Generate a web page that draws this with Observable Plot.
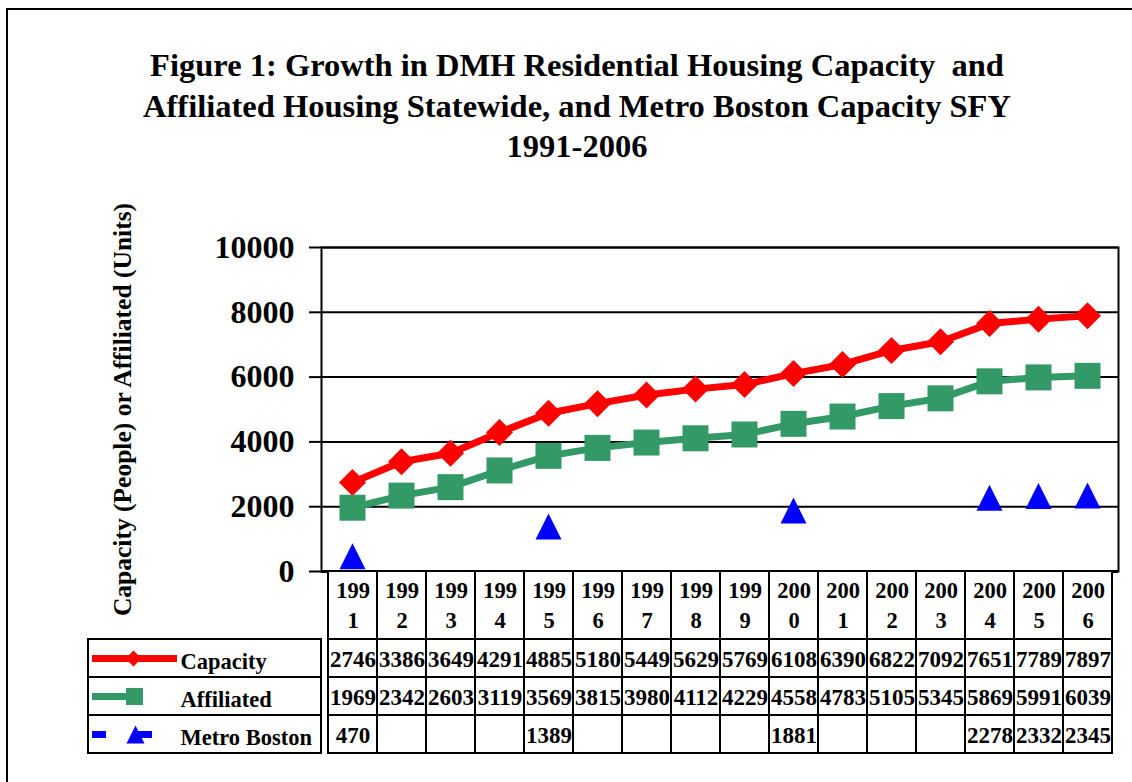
<!DOCTYPE html>
<html>
<head>
<meta charset="utf-8">
<script src="https://cdn.jsdelivr.net/npm/d3@7"></script>
<script src="https://cdn.jsdelivr.net/npm/@observablehq/plot@0.6"></script>
<style>
  html, body { margin: 0; padding: 0; background: white; }
  #page { position: relative; width: 1132px; height: 782px; overflow: hidden; background: white;
          font-family: 'Liberation Serif', 'Times New Roman', serif; }
  #frame { position: absolute; left: 6px; top: 8px; width: 1300px; height: 1000px;
           border-left: 2.5px solid black; border-top: 2.5px solid black; }
  #title { position: absolute; left: 0; top: 45px; width: 1154px; text-align: center;
           font-size: 32.5px; font-weight: bold; line-height: 40.5px; white-space: pre; color: black; }
  .pl { position: absolute; }
</style>
</head>
<body>
<div id="page">
  <div id="frame"></div>
  <div id="title"></div>
  <div id="chart" class="pl" style="left:0;top:180px;"></div>
  <div id="header" class="pl" style="left:0;top:571px;"></div>
  <div id="rows" class="pl" style="left:0;top:639px;"></div>
  <div id="legend" class="pl" style="left:88px;top:639px;"></div>
</div>
<script>
// ---- data ----
const titleLines = [
  "Figure 1: Growth in DMH Residential Housing Capacity  and",
  "Affiliated Housing Statewide, and Metro Boston Capacity SFY",
  "1991-2006"
];
const yLabel = "Capacity (People) or Affiliated (Units)";
const years = [1991, 1992, 1993, 1994, 1995, 1996, 1997, 1998, 1999, 2000, 2001, 2002, 2003, 2004, 2005, 2006];
const capacity = [2746, 3386, 3649, 4291, 4885, 5180, 5449, 5629, 5769, 6108, 6390, 6822, 7092, 7651, 7789, 7897];
const affiliated = [1969, 2342, 2603, 3119, 3569, 3815, 3980, 4112, 4229, 4558, 4783, 5105, 5345, 5869, 5991, 6039];
const metroBoston = [470, null, null, null, 1389, null, null, null, null, 1881, null, null, null, 2278, 2332, 2345];
const seriesNames = ["Capacity", "Affiliated", "Metro Boston"];
const yTicks = [0, 2000, 4000, 6000, 8000, 10000];

// ---- styles ----
const FONT = "'Liberation Serif', 'Times New Roman', serif";
const RED = "#ff0000", GREEN = "#339966", BLUE = "#0000ff";
const baseStyle = {background: "none", fontFamily: FONT, overflow: "visible", color: "black"};

// custom symbols: r gives half-extent of the box
const half = (size) => Math.sqrt(size / Math.PI);
const diamondSym = {draw(c, s) { const h = half(s); c.moveTo(0, -h); c.lineTo(h, 0); c.lineTo(0, h); c.lineTo(-h, 0); c.closePath(); }};
const squareSym = {draw(c, s) { const h = half(s); c.moveTo(-h, -h); c.lineTo(h, -h); c.lineTo(h, h); c.lineTo(-h, h); c.closePath(); }};
const triangleSym = {draw(c, s) { const h = half(s); c.moveTo(0, -h); c.lineTo(h, h); c.lineTo(-h, h); c.closePath(); }};

document.getElementById("title").textContent = titleLines.join("\n");

const rowsOf = (arr) => years.map((year, i) => ({year, value: arr[i]}));
const capRows = rowsOf(capacity);
const affRows = rowsOf(affiliated);
const metroRows = rowsOf(metroBoston).filter(d => d.value != null);

// ---- chart ----
const chart = Plot.plot({
  width: 1132, height: 400,
  marginTop: 67, marginBottom: 9, marginLeft: 321, marginRight: 14,
  style: baseStyle,
  x: {type: "point", domain: years, padding: 0.5, axis: null},
  y: {domain: [0, 10000]},
  marks: [
    Plot.gridY(yTicks, {stroke: "black", strokeOpacity: 1, strokeWidth: 2}),
    Plot.frame({stroke: "black", strokeWidth: 2}),
    Plot.ruleY([0], {stroke: "black", strokeWidth: 3}),
    Plot.axisY(yTicks, {tickSize: 12, tickPadding: 15, tickFormat: d => String(d),
      fontSize: 32, fontWeight: "bold", strokeWidth: 2, label: null}),
    Plot.text([yLabel], {frameAnchor: "left", dx: -199, rotate: -90, textAnchor: "middle",
      fontSize: 25.5, fontWeight: "bold", fill: "black"}),
    Plot.line(capRows, {x: "year", y: "value", stroke: RED, strokeWidth: 7}),
    Plot.dot(capRows, {x: "year", y: "value", symbol: diamondSym, r: 13.5, fill: RED, stroke: "none"}),
    Plot.line(affRows, {x: "year", y: "value", stroke: GREEN, strokeWidth: 7}),
    Plot.dot(affRows, {x: "year", y: "value", symbol: squareSym, r: 13, fill: GREEN, stroke: "none"}),
    Plot.dot(metroRows, {x: "year", y: "value", symbol: triangleSym, r: 13, fill: BLUE, stroke: "none"})
  ]
});
document.getElementById("chart").append(chart);

// ---- table header (years) ----
const header = Plot.plot({
  width: 1132, height: 68,
  marginTop: 0, marginBottom: 0, marginLeft: 321, marginRight: 14,
  style: baseStyle,
  x: {type: "band", domain: years, padding: 0, axis: null},
  marks: [
    Plot.cell(years, {x: d => d, fill: "white", stroke: "black", strokeWidth: 2}),
    Plot.text(years, {x: d => d, text: d => String(d).slice(0, 3) + "\n" + String(d).slice(3),
      fontSize: 22.5, fontWeight: "bold", lineHeight: 1.33, dy: -2, fill: "black"})
  ]
});
document.getElementById("header").append(header);

// ---- table rows ----
const seriesValues = [capacity, affiliated, metroBoston];
const grid = seriesNames.flatMap((name, k) => years.map((year, i) => ({name, year, value: seriesValues[k][i]})));
const rows = Plot.plot({
  width: 1132, height: 114,
  marginTop: 0, marginBottom: 0, marginLeft: 321, marginRight: 14,
  style: baseStyle,
  x: {type: "band", domain: years, padding: 0, axis: null},
  y: {type: "band", domain: seriesNames, padding: 0, axis: null},
  marks: [
    Plot.cell(grid, {x: "year", y: "name", fill: "white", stroke: "black", strokeWidth: 2}),
    Plot.text(grid.filter(d => d.value != null), {x: "year", y: "name", text: d => String(d.value),
      fontSize: 23, fontWeight: "bold", dy: 1, fill: "black"})
  ]
});
document.getElementById("rows").append(rows);

// ---- legend column ----
const legend = Plot.plot({
  width: 233, height: 114,
  marginTop: 0, marginBottom: 0, marginLeft: 0, marginRight: 0,
  style: baseStyle,
  x: {domain: [0, 233], axis: null},
  y: {type: "band", domain: seriesNames, padding: 0, axis: null},
  marks: [
    Plot.cell(seriesNames, {y: d => d, fill: "white", stroke: "black", strokeWidth: 2}),
    Plot.ruleY([seriesNames[0]], {y: d => d, x1: 4, x2: 89, stroke: RED, strokeWidth: 7}),
    Plot.dot([seriesNames[0]], {y: d => d, x: 45, symbol: diamondSym, r: 8, fill: RED}),
    Plot.ruleY([seriesNames[1]], {y: d => d, x1: 4, x2: 52, stroke: GREEN, strokeWidth: 7}),
    Plot.dot([seriesNames[1]], {y: d => d, x: 46, symbol: squareSym, r: 8.5, fill: GREEN}),
    Plot.ruleY([seriesNames[2]], {y: d => d, x1: 4, x2: 18, stroke: BLUE, strokeWidth: 7}),
    Plot.ruleY([seriesNames[2]], {y: d => d, x1: 47, x2: 64, stroke: BLUE, strokeWidth: 7}),
    Plot.dot([seriesNames[2]], {y: d => d, x: 47, symbol: triangleSym, r: 9, fill: BLUE}),
    Plot.text(seriesNames, {y: d => d, frameAnchor: "left", dx: 92, textAnchor: "start",
      fontSize: 22.5, fontWeight: "bold", dy: 3, fill: "black"})
  ]
});
document.getElementById("legend").append(legend);
</script>
</body>
</html>
